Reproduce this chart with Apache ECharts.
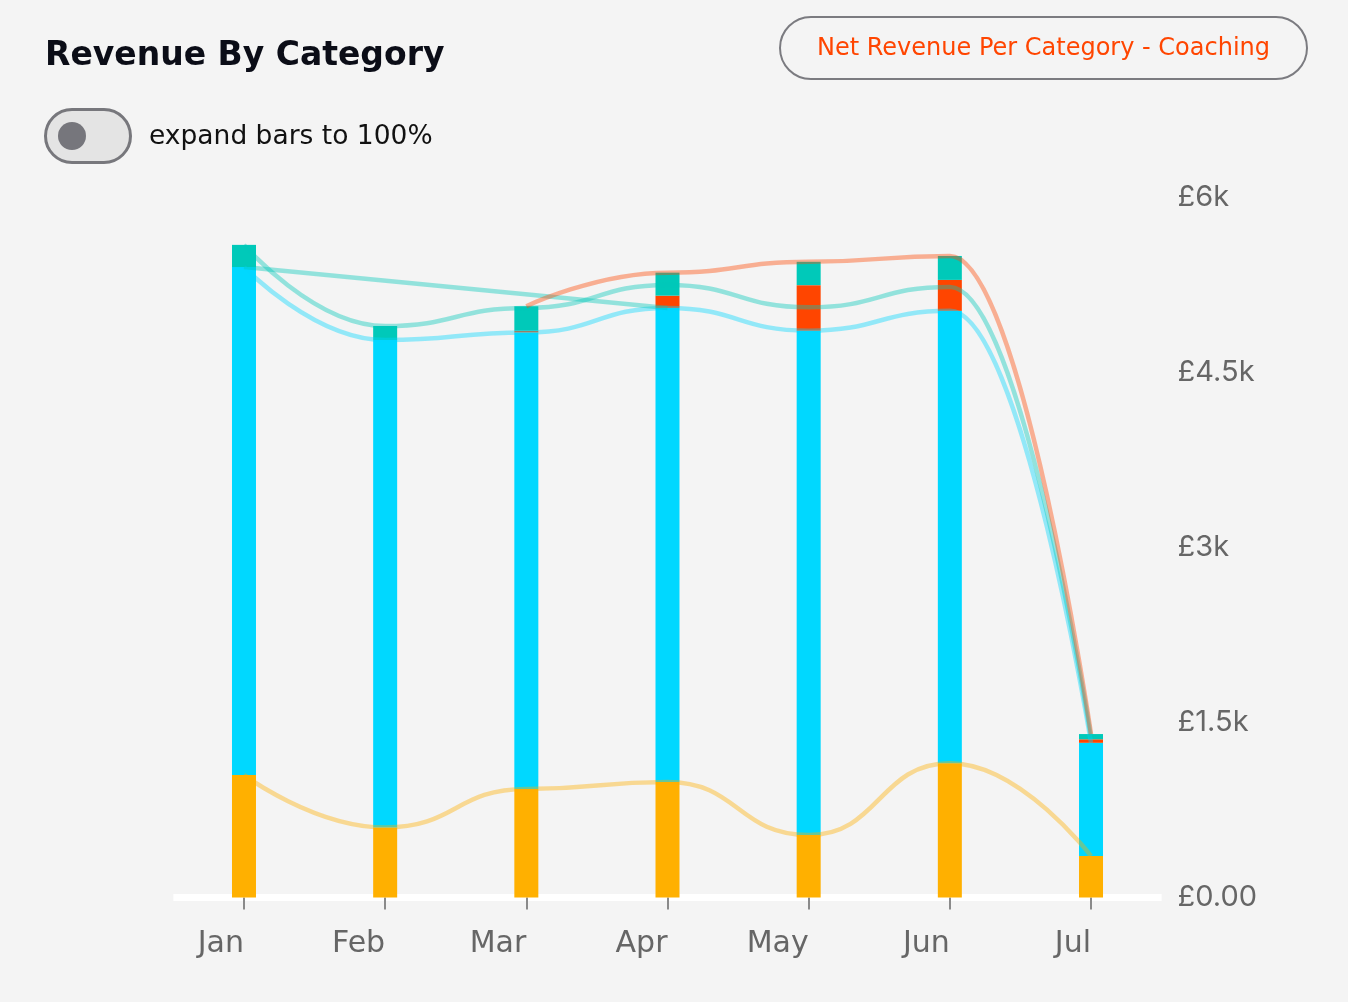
<!DOCTYPE html>
<html>
<head>
<meta charset="utf-8">
<script src="https://cdn.jsdelivr.net/npm/echarts@6/dist/echarts.min.js"></script>
<style>
  html, body { margin: 0; padding: 0; background: #f4f4f4; }
  #chart { width: 1348px; height: 1002px; }
</style>
</head>
<body>
<div id="chart"></div>
<script>
// ---- data ----
const months = ['Jan', 'Feb', 'Mar', 'Apr', 'May', 'Jun', 'Jul'];
const seriesOrange = [1050, 600, 930, 990, 535, 1150, 355];
const seriesCyan   = [4350, 4175, 3910, 4060, 4320, 3875, 970];
const seriesRed    = [null, null, 14, 105, 390, 265, 30];
const seriesTeal   = [190, 120, 210, 197, 200, 205, 45];
const seriesOther  = [0, null, null, 0, null, null, null];
const yTicks = [0, 1500, 3000, 4500, 6000];

const C_ORANGE = '#FFB000', C_CYAN = '#00D8FF', C_RED = '#FF4500', C_TEAL = '#00C9B9';

const chart = echarts.init(document.getElementById('chart'), null, { renderer: 'canvas' });

function bar(name, data, color) {
  return { name, type: 'bar', stack: 'bars', data, barWidth: 24, itemStyle: { color }, z: 2, silent: true };
}
function line(name, data, color, connect) {
  return {
    name, type: 'line', stack: 'lines', data, smooth: 0.5, smoothMonotone: 'x',
    showSymbol: false, connectNulls: !!connect,
    lineStyle: { color, width: 4.5, opacity: 0.4 }, itemStyle: { color }, z: 3, silent: true
  };
}

const FONT = 'Inter, "Noto Sans", sans-serif';
const DV = '"DejaVu Sans", sans-serif';

chart.setOption({
  backgroundColor: '#f4f4f4',
  animation: false,
  grid: { left: 173.4, right: 186.4, top: 197, bottom: 104.5, containLabel: false, outerBoundsMode: 'none' },
  xAxis: {
    type: 'category', data: months, boundaryGap: true,
    axisLine: { show: true, lineStyle: { color: '#ffffff', width: 7, cap: 'butt' } },
    axisTick: { show: true, alignWithLabel: true, length: 12, lineStyle: { color: '#8a8a8a', width: 2 } },
    axisLabel: { color: '#666666', fontSize: 30, fontFamily: DV, align: 'right', margin: 32 }
  },
  yAxis: {
    type: 'value', position: 'right', min: yTicks[0], max: yTicks[yTicks.length - 1], interval: 1500,
    splitLine: { show: false }, axisLine: { show: false }, axisTick: { show: false },
    axisLabel: {
      color: '#666666', fontSize: 29, fontFamily: FONT, margin: 16,
      formatter: v => v === 0 ? '£0.00' : '£' + (v / 1000) + 'k'
    }
  },
  series: [
    bar('Orange', seriesOrange, C_ORANGE),
    bar('Cyan', seriesCyan, C_CYAN),
    bar('Red', seriesRed, C_RED),
    bar('Teal', seriesTeal, C_TEAL),
    line('Orange line', seriesOrange, C_ORANGE),
    line('Cyan line', seriesCyan, C_CYAN),
    line('Other line', seriesOther, C_TEAL, true),
    line('Teal line', seriesTeal, C_TEAL),
    line('Red line', seriesRed, C_RED)
  ],
  graphic: [
    { type: 'text', x: 45, y: 56, style: { text: 'Revenue By Category', font: 'bold 33px ' + DV, fill: '#0b0d17', textVerticalAlign: 'middle' } },
    { type: 'rect', shape: { x: 45.5, y: 109.5, width: 85, height: 53, r: 26.5 }, style: { fill: '#e4e4e4', stroke: '#77777c', lineWidth: 3 } },
    { type: 'circle', shape: { cx: 72, cy: 136, r: 14 }, style: { fill: '#76767c' } },
    { type: 'text', x: 149, y: 137, style: { text: 'expand bars to 100%', font: '26.5px ' + DV, fill: '#111111', textVerticalAlign: 'middle' } },
    { type: 'rect', shape: { x: 780, y: 17, width: 527, height: 62, r: 31 }, style: { fill: 'none', stroke: '#7b7b80', lineWidth: 2 } },
    { type: 'text', x: 1043.5, y: 49, style: { text: 'Net Revenue Per Category - Coaching', font: '24px ' + DV, fill: '#FF4500', textAlign: 'center', textVerticalAlign: 'middle' } }
  ]
});
</script>
</body>
</html>
